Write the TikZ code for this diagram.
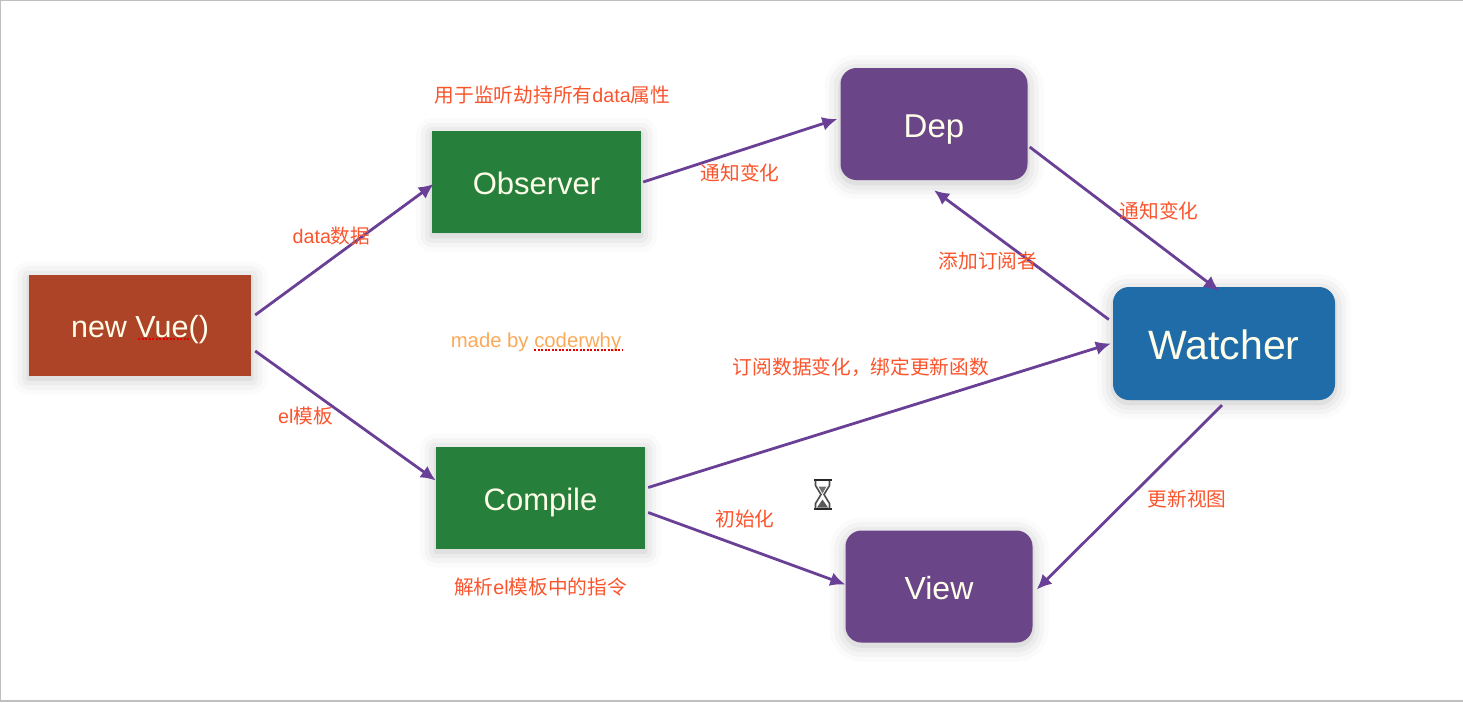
\documentclass[tikz,border=0pt]{standalone}
\usepackage{fontspec}
\setmainfont{Liberation Sans}
\newfontfamily\cjk{Noto Sans CJK SC}
\usetikzlibrary{positioning,shadows.blur,arrows.meta}

\definecolor{vuered}{RGB}{174,68,39}
\definecolor{obsgreen}{RGB}{38,128,59}
\definecolor{deppurple}{RGB}{106,69,135}
\definecolor{watchblue}{RGB}{31,108,168}
\definecolor{flowpurple}{RGB}{106,64,150}
\definecolor{notered}{RGB}{250,84,44}
\definecolor{madeorange}{RGB}{250,170,90}

\tikzset{
  box/.style={text=white!92!yellow, inner sep=0pt, text height=26pt, text depth=0pt,
    font=\fontsize{31}{36}\selectfont,
    blur shadow={shadow xshift=0pt, shadow yshift=-3pt, shadow blur radius=16pt, shadow opacity=24}},
  sqbox/.style={box, minimum width=209pt, minimum height=102pt},
  rbox/.style={box, rounded corners=16pt, minimum width=187pt, minimum height=112pt},
  flow/.style={-{Latex[length=15pt,width=14pt]}, line width=2.8pt, draw=flowpurple},
  note/.style={text=notered, inner sep=0pt, font=\cjk\fontsize{19.7}{24}\selectfont},
}

\begin{document}
\begin{tikzpicture}[x=1pt,y=-1pt]

  \useasboundingbox (0,0) rectangle (1463,702);
  \draw[black!25, line width=1.5pt] (0.5,702) -- (0.5,0.5) -- (1463,0.5);
  \draw[black!25, line width=2pt] (0,701) -- (1463,701);

  % boxes
  \node[sqbox, fill=vuered, minimum width=222pt, minimum height=101pt, text height=25pt,
    font=\fontsize{30.5}{36}\selectfont] (vue) at (140,325) {new Vue()};
  \node[sqbox, fill=obsgreen, text height=25pt] (observer) at (536.5,182) {Observer};
  \node[sqbox, fill=obsgreen] (compile) at (540.5,497.5) {Compile};
  \node[rbox, fill=deppurple, font=\fontsize{33}{36}\selectfont] (dep) at (934,124) {Dep};
  \node[rbox, fill=deppurple, font=\fontsize{32}{36}\selectfont] (view) at (939,586.5) {View};
  \node[rbox, fill=watchblue, minimum width=222pt, minimum height=113pt, text height=31pt,
    font=\fontsize{41}{48}\selectfont] (watcher) at (1224,343.5) {Watcher};

  % connectors
  \draw[flow] ([shift={(4,-10)}]vue.east) -- ([shift={(2,2)}]observer.west);
  \draw[flow] ([shift={(4,26)}]vue.east) -- ([shift={(0,-17)}]compile.west);
  \draw[flow] ([shift={(2,0)}]observer.east) -- ([shift={(-3,-5)}]dep.west);
  \draw[flow] ([shift={(2,23)}]dep.east) -- ([shift={(-5,4)}]watcher.north);
  \draw[flow] ([shift={(-4,-24)}]watcher.west) -- ([shift={(0,10)}]dep.south);
  \draw[flow] ([shift={(3,-10)}]compile.east) -- ([shift={(-2,0)}]watcher.west);
  \draw[flow] ([shift={(3,15)}]compile.east) -- ([shift={(0,-2)}]view.west);
  \draw[flow] ([shift={(-2,5)}]watcher.south) -- ([shift={(4,3)}]view.east);

  % labels
  \node[note] (obsnote) at (552.5,95) {用于监听劫持所有{\rmfamily data}属性};
  \node[note] (datanote) at (331.5,236.5) {{\rmfamily data}数据};
  \node[note] (elnote) at (305.5,416.5) {{\rmfamily el}模板};
  \node[note] (depnote) at (740,173) {通知变化};
  \node[note] (watchnote) at (1159,210.5) {通知变化};
  \node[note] (addnote) at (988,261.5) {添加订阅者};
  \node[note] (subnote) at (861,367) {订阅数据变化，绑定更新函数};
  \node[note] (initnote) at (745,519.5) {初始化};
  \node[note] (viewnote) at (1187,498.5) {更新视图};
  \node[note] (compnote) at (540.5,587) {解析{\rmfamily el}模板中的指令};
  \node[note, text=madeorange, font=\rmfamily\fontsize{20.3}{24}\selectfont] (madenote) at (536,342) {made by coderwhy};

  % spell check marks
  \draw[red!90!black, line width=2pt, dash pattern=on 2pt off 1.5pt] (534,349.5) -- (622,349.5);
  \draw[red!90!black, line width=2pt, dash pattern=on 2pt off 1.5pt] (138,338.5) -- (190,338.5);

  % hourglass
  \begin{scope}[shift={(822.5,494.5)}]
    \draw[black!85, line width=2.4pt] (-9,-14.5) -- (9,-14.5) (-9,14.5) -- (9,14.5);
    \draw[black!70, line width=1.6pt] (-7,-14) -- (-7,-9) -- (-1.5,0) -- (-7,9) -- (-7,14)
      (7,-14) -- (7,-9) -- (1.5,0) -- (7,9) -- (7,14);
    \fill[black!55] (-4,-8) -- (4,-8) -- (0,-1) -- cycle;
    \fill[black!65] (-5.5,13) -- (5.5,13) -- (0,5) -- cycle;
  \end{scope}

\end{tikzpicture}
\end{document}
